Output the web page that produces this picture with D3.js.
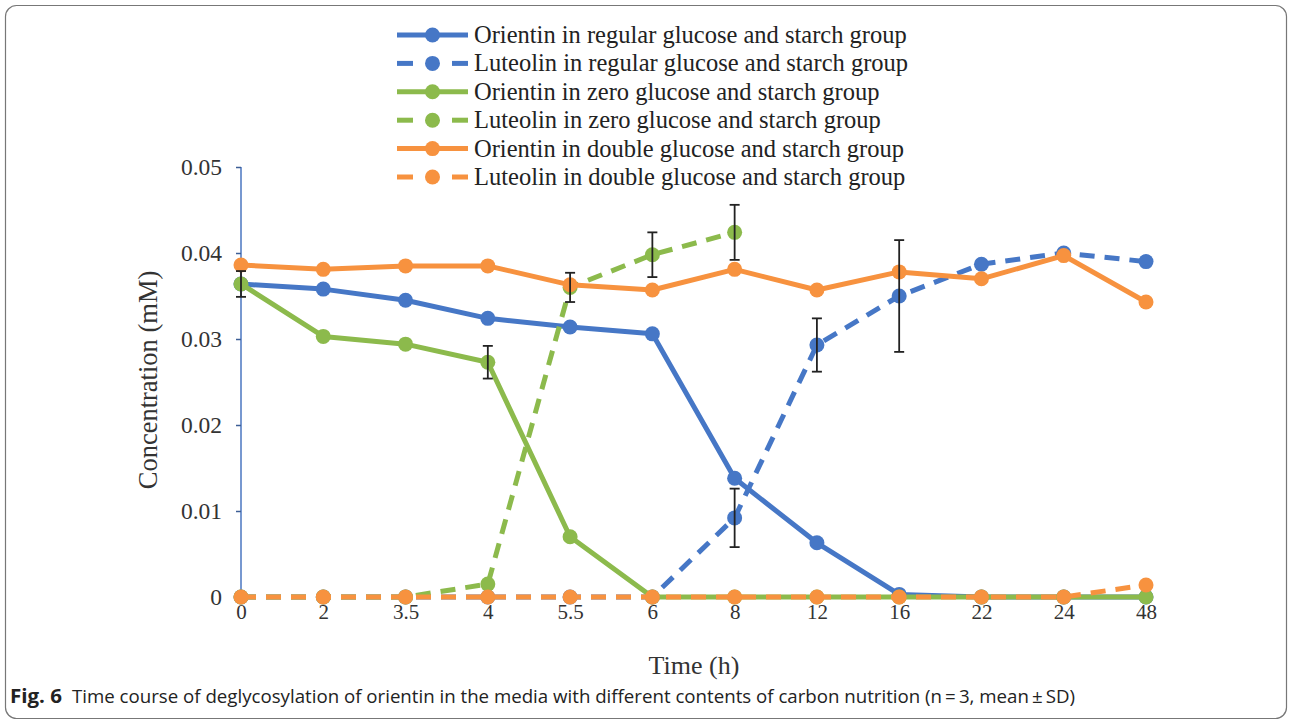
<!DOCTYPE html>
<html><head><meta charset="utf-8">
<script src="https://cdn.jsdelivr.net/npm/d3@7"></script>
<style>body{margin:0;background:#fff}svg{display:block}</style>
</head><body>
<svg id="c" width="1290" height="723"></svg>
<script>
const times = ["0","2","3.5","4","5.5","6","8","12","16","22","24","48"];
const yTicks = [0,0.01,0.02,0.03,0.04,0.05];
const yTickLabels = ["0","0.01","0.02","0.03","0.04","0.05"];
const seriesNames = [
  "Orientin in regular glucose and starch group",
  "Luteolin in regular glucose and starch group",
  "Orientin in zero glucose and starch group",
  "Luteolin in zero glucose and starch group",
  "Orientin in double glucose and starch group",
  "Luteolin in double glucose and starch group"];
const orientinRegular = [0.0364,0.0358,0.0345,0.0324,0.0314,0.0306,0.0138,0.0063,0.0003,0,0,0];
const luteolinRegular = [0,0,0,0,0,0,0.0092,0.0293,0.0350,0.0387,0.0400,0.0390];
const orientinZero    = [0.0364,0.0303,0.0294,0.0273,0.0070,0,0,0,0,0,0,0];
const luteolinZero    = [0,0,0,0.0015,0.0360,0.0398,0.0424];
const orientinDouble  = [0.0386,0.0381,0.0385,0.0385,0.0363,0.0357,0.0381,0.0357,0.0378,0.0370,0.0397,0.0343];
const luteolinDouble  = [0,0,0,0,0,0,0,0,0,0,0,0.0014];
// error bars: [series index, time index, sd]
const errorBars = [[0,0,0.0015],[2,3,0.0019],[3,4,0.0017],[3,5,0.0026],[3,6,0.0032],[1,6,0.0034],[1,7,0.0031],[1,8,0.0065]];

const colors = ["#4677c6","#4677c6","#8cba4c","#8cba4c","#f7923f","#f7923f"];
const dashed = [false,true,false,true,false,true];
const values = [orientinRegular,luteolinRegular,orientinZero,luteolinZero,orientinDouble,luteolinDouble];

const svg = d3.select("#c");
const serif = "'Liberation Serif','Times New Roman',serif";

// frame
svg.append("rect").attr("x",5.5).attr("y",5.5).attr("width",1281).attr("height",713).attr("rx",11)
  .attr("fill","none").attr("stroke","#777").attr("stroke-width",1.2);

const x = d3.scalePoint().domain(times).range([241,1146]);
const y = d3.scaleLinear().domain([0,0.05]).range([597,167]);

// y axis
const yAxis = svg.append("g").attr("transform","translate(241,0)")
  .call(d3.axisLeft(y).tickValues(yTicks).tickFormat((d,i)=>yTickLabels[i]).tickSize(5).tickPadding(14));
yAxis.select(".domain").attr("stroke","#4a76c0").attr("stroke-width",1.5).attr("d","M0,167V597");
yAxis.selectAll(".tick line").attr("stroke","#3d5f96").attr("stroke-width",1.5);
yAxis.selectAll(".tick text").attr("font-family",serif).attr("font-size",23.5).attr("fill","#333");

// x axis labels
const xAxis = svg.append("g").attr("transform","translate(0,597)")
  .call(d3.axisBottom(x).tickSize(0).tickPadding(7));
xAxis.select(".domain").remove();
xAxis.selectAll(".tick text").attr("font-family",serif).attr("font-size",21).attr("fill","#333");

// titles
svg.append("text").attr("transform","translate(157,380) rotate(-90)").attr("text-anchor","middle")
  .attr("font-family",serif).attr("font-size",26.5).attr("fill","#333").text("Concentration (mM)");
svg.append("text").attr("x",694).attr("y",674).attr("text-anchor","middle")
  .attr("font-family",serif).attr("font-size",26).attr("fill","#333").text("Time (h)");

// series
const line = d3.line().x((d,i)=>x(times[i])).y(d=>y(d));
values.forEach((vals,s)=>{
  const g = svg.append("g");
  g.append("path").datum(vals).attr("d",line).attr("fill","none")
    .attr("stroke",colors[s]).attr("stroke-width",5).attr("stroke-linejoin","round")
    .attr("stroke-dasharray",dashed[s]?"15,10":null);
  g.selectAll("circle").data(vals).join("circle")
    .attr("cx",(d,i)=>x(times[i])).attr("cy",d=>y(d)).attr("r",7.5).attr("fill",colors[s]);
});

// error bars
const eb = svg.append("g").attr("stroke","#222").attr("stroke-width",1.8);
errorBars.forEach(([s,t,sd])=>{
  const cx = x(times[t]), v = values[s][t];
  eb.append("line").attr("x1",cx).attr("x2",cx).attr("y1",y(v+sd)).attr("y2",y(v-sd));
  eb.append("line").attr("x1",cx-5).attr("x2",cx+5).attr("y1",y(v+sd)).attr("y2",y(v+sd));
  eb.append("line").attr("x1",cx-5).attr("x2",cx+5).attr("y1",y(v-sd)).attr("y2",y(v-sd));
});

// legend
const lg = svg.append("g");
seriesNames.forEach((name,i)=>{
  const ly = 35 + i*28.4;
  if(dashed[i]){
    lg.append("line").attr("x1",397).attr("x2",413).attr("y1",ly).attr("y2",ly).attr("stroke",colors[i]).attr("stroke-width",5);
    lg.append("line").attr("x1",452).attr("x2",468).attr("y1",ly).attr("y2",ly).attr("stroke",colors[i]).attr("stroke-width",5);
  } else {
    lg.append("line").attr("x1",397).attr("x2",468).attr("y1",ly).attr("y2",ly).attr("stroke",colors[i]).attr("stroke-width",5);
  }
  lg.append("circle").attr("cx",432.5).attr("cy",ly).attr("r",7.5).attr("fill",colors[i]);
  lg.append("text").attr("x",474).attr("y",ly+8).attr("font-family",serif).attr("font-size",24.5)
    .attr("fill","#222").text(name);
});

// caption
const cap = svg.append("text").attr("x",10).attr("y",703).attr("font-family","'Open Sans',sans-serif").attr("font-size",18).attr("fill","#222");
cap.append("tspan").attr("font-weight","bold").attr("font-size",19).attr("textLength",52).attr("lengthAdjust","spacingAndGlyphs").text("Fig. 6");
cap.append("tspan").attr("x",72).attr("textLength",1003).attr("lengthAdjust","spacingAndGlyphs")
  .text("Time course of deglycosylation of orientin in the media with different contents of carbon nutrition (n\u2009=\u20093, mean\u2009\u00b1\u2009SD)");
</script>
</body></html>
